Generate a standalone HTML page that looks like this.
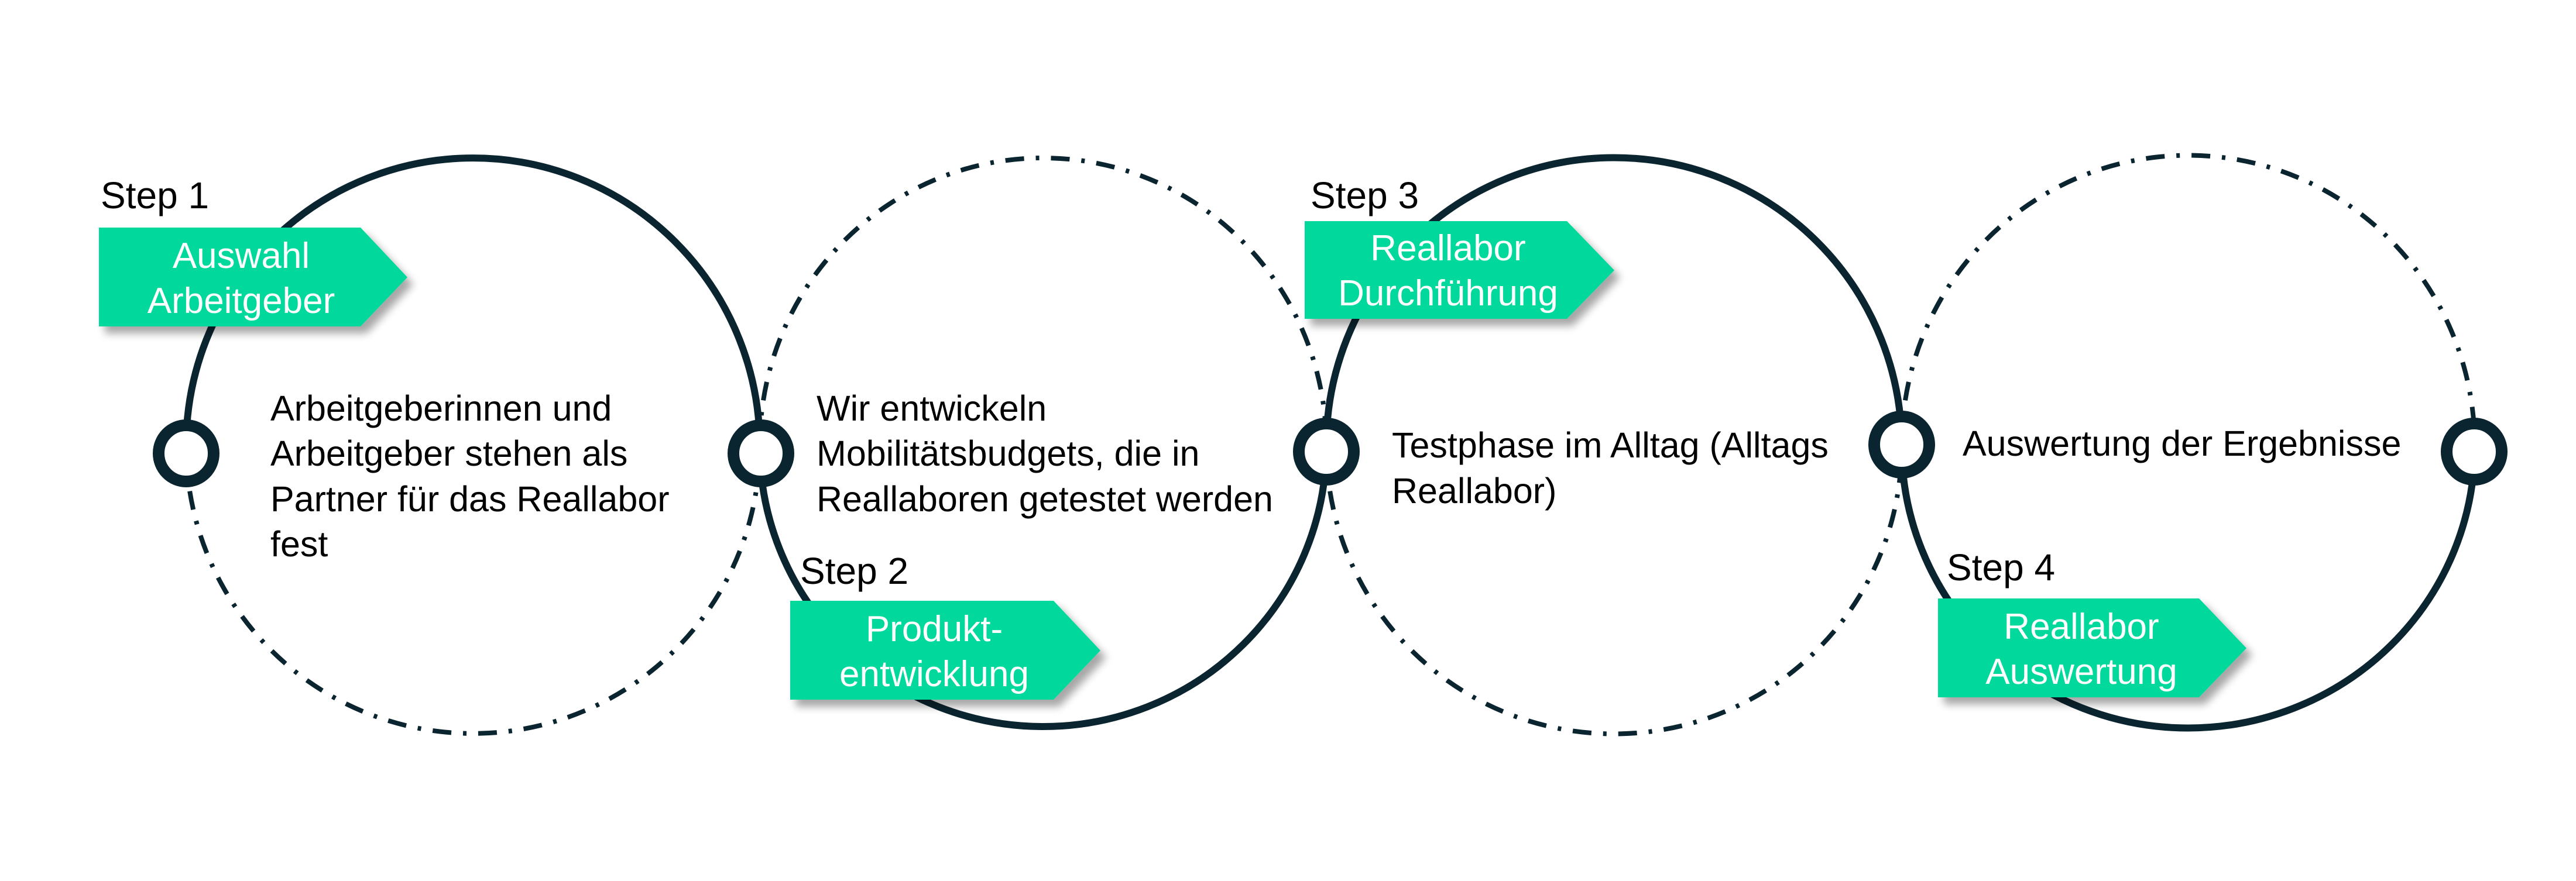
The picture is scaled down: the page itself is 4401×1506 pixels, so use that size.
<!DOCTYPE html>
<html><head><meta charset="utf-8"><style>
html,body{margin:0;padding:0;background:#fff;}
svg{display:block;}
text{font-family:"Liberation Sans",sans-serif;}
</style></head><body>
<svg width="4401" height="1506" viewBox="0 0 4401 1506" xmlns="http://www.w3.org/2000/svg">
<defs>
<filter id="sh" x="-10%" y="-10%" width="130%" height="140%">
<feGaussianBlur in="SourceAlpha" stdDeviation="7"/>
<feOffset dx="10" dy="12" result="o"/>
<feComponentTransfer><feFuncA type="linear" slope="0.35"/></feComponentTransfer>
<feMerge><feMergeNode/><feMergeNode in="SourceGraphic"/></feMerge>
</filter>
</defs>
<g fill="none" stroke="#0b2530">
<path d="M318,762 A490,492 0 0 1 1298,762" stroke-width="12"/>
<path d="M318,762 A490,492 0 0 0 1298,762" stroke-width="8" stroke-dasharray="32 20 6 20"/>
<path d="M1298,762 A484,492 0 0 1 2266,762" stroke-width="8" stroke-dasharray="32 20 6 20"/>
<path d="M1298,762 A484,480 0 0 0 2266,762" stroke-width="12"/>
<path d="M2266,762 A491,492 0 0 1 3249,762" stroke-width="12"/>
<path d="M2266,762 A491,492 0 0 0 3249,762" stroke-width="8" stroke-dasharray="32 20 6 20"/>
<path d="M3249,762 A489,496 0 0 1 4228,762" stroke-width="8" stroke-dasharray="32 20 6 20"/>
<path d="M3249,762 A489,482 0 0 0 4228,762" stroke-width="12"/>
</g>
<g fill="#fff" stroke="#0b2530" stroke-width="20">
<ellipse cx="318" cy="775" rx="47" ry="48"/>
<ellipse cx="1300" cy="775" rx="47" ry="48"/>
<ellipse cx="2266" cy="772" rx="47" ry="48"/>
<ellipse cx="3249" cy="760" rx="47" ry="48"/>
<ellipse cx="4227" cy="772" rx="47" ry="48"/>
</g>
<g fill="#00d89c" filter="url(#sh)">
<polygon points="169,389 616,389 696,474 616,558 169,558"/>
<polygon points="1350,1027 1800,1027 1880,1112 1800,1196 1350,1196"/>
<polygon points="2229,378 2677,378 2758,462 2677,545 2229,545"/>
<polygon points="3311,1023 3757,1023 3838,1108 3757,1192 3311,1192"/>
</g>
<g fill="#fff" font-size="62" text-anchor="middle">
<text x="412" y="458">Auswahl</text>
<text x="412" y="535">Arbeitgeber</text>
<text x="1596" y="1096">Produkt-</text>
<text x="1596" y="1173">entwicklung</text>
<text x="2474" y="445">Reallabor</text>
<text x="2474" y="522">Durchführung</text>
<text x="3556" y="1092">Reallabor</text>
<text x="3556" y="1169">Auswertung</text>
</g>
<g fill="#000" font-size="64">
<text x="172" y="356">Step 1</text>
<text x="1367" y="998">Step 2</text>
<text x="2239" y="356">Step 3</text>
<text x="3326" y="992">Step 4</text>
</g>
<g fill="#000" font-size="61">
<text x="462" y="719">Arbeitgeberinnen und</text>
<text x="462" y="796">Arbeitgeber stehen als</text>
<text x="462" y="874">Partner für das Reallabor</text>
<text x="462" y="951">fest</text>
<text x="1395" y="719">Wir entwickeln</text>
<text x="1395" y="796">Mobilitätsbudgets, die in</text>
<text x="1395" y="874">Reallaboren getestet werden</text>
<text x="2378" y="782">Testphase im Alltag (Alltags</text>
<text x="2378" y="860">Reallabor)</text>
<text x="3353" y="779">Auswertung der Ergebnisse</text>
</g>
</svg>
</body></html>
